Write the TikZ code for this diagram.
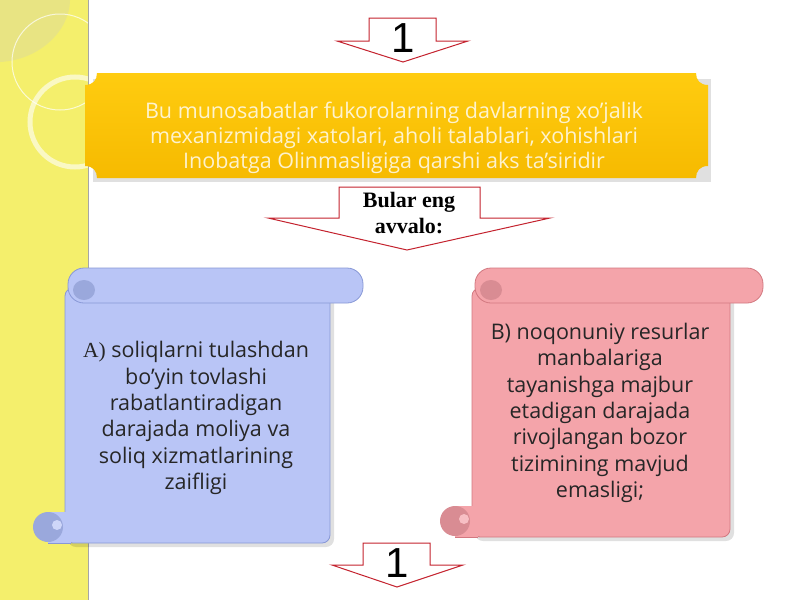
\documentclass[tikz,border=0pt]{standalone}
\usepackage{fontspec}
\setmainfont{Open Sans}
\newfontfamily\serifx{Liberation Serif}
\newfontfamily\arialx{Liberation Sans}
\definecolor{stripyellow}{HTML}{F4EF6C}
\definecolor{bannerA}{HTML}{FFCC10}
\definecolor{bannerB}{HTML}{F6BA00}
\definecolor{arrowred}{HTML}{C4222E}
\definecolor{blueF}{HTML}{B9C5F6}
\definecolor{blueD}{HTML}{8898D6}
\definecolor{redF}{HTML}{F4A4AA}
\definecolor{redD}{HTML}{D27880}
\tikzset{
  arrowbox/.style={draw=arrowred,fill=white,line width=1pt,line join=miter},
  bannertext/.style={align=center,text=white,text opacity=0.8,font=\fontsize{21.5}{25}\selectfont},
  scrolltext/.style={align=center,text=black!85,font=\fontsize{21.5}{26.3}\selectfont},
  numlabel/.style={font=\arialx\fontsize{42}{42}\selectfont}
}
\newcommand\drawscroll[7]{%
  % #1 left, #2 body right, #3 roll right, #4 top, #5 bottom, #6 fill, #7 dark
  \fill[black,opacity=0.12,rounded corners=8] ({#1+3},{#4+24}) rectangle ({#2+4},{#5+4});
  \filldraw[fill=#6,draw=#7,line width=0.8pt,rounded corners=8] ({#1},{#4+20}) rectangle ({#2},{#5});
  \fill[#6] ({#1-17},{#5-31}) rectangle ({#1+6},{#5-0.5});
  \draw[#7,line width=0.8pt] ({#1-17},{#5}) -- ({#1+6},{#5});
  \fill[#7!85] ({#1-17},{#5-16}) circle[radius=15];
  \fill[#6!70!white] ({#1-8},{#5-18}) circle[radius=5];
  \filldraw[fill=#6,draw=#7,line width=0.8pt,rounded corners=16] ({#1+3},{#4}) rectangle ({#3},{#4+35});
  \fill[#7!85] ({#1+19},{#4+22}) ellipse[x radius=11,y radius=10];
}
\begin{document}
\begin{tikzpicture}[x=1pt,y=-1pt]
\useasboundingbox (0,0) rectangle (800,600);
\fill[white] (0,0) rectangle (800,600);
% left strip
\fill[stripyellow] (0,0) rectangle (88,600);
\fill[olive!30,opacity=0.5] (0,0) -- (70,0) .. controls (70,30) and (40,60) .. (0,62) -- cycle;
\draw[white,opacity=0.7,line width=1pt] (60,62) circle[radius=48];
\draw[white,opacity=0.6,line width=5pt] (75,122) circle[radius=45];
\draw[gray!70,line width=0.8pt] (88,0) -- (88,600);
% banner
\fill[black,opacity=0.12] (93,79) -- (711,79) -- (711,182) -- (93,182) -- cycle;
\shade[top color=bannerA,bottom color=bannerB,draw=none]
  (97,73) -- (696,73) .. controls (696,80) and (700,85) .. (708,85)
  -- (708,166) .. controls (700,166) and (696,171) .. (696,178)
  -- (97,178) .. controls (97,171) and (93,166) .. (85,166)
  -- (85,85) .. controls (93,85) and (97,80) .. (97,73) -- cycle;
\node[bannertext] (banner) at (394,138) {Bu munosabatlar fukorolarning davlarning xo'jalik\\mexanizmidagi xatolari, aholi talablari, xohishlari\\Inobatga Olinmasligiga qarshi aks ta'siridir};
% top arrow
\draw[arrowbox] (369,18) -- (436,18) -- (436,41) -- (468,41) -- (403,62) -- (337,41) -- (369,41) -- cycle;
\node[numlabel] (n1) at (403,38) {1};
% Bular arrow
\draw[arrowbox] (339,187) -- (480,187) -- (480,218) -- (550,218) -- (407,250) -- (268,218) -- (339,218) -- cycle;
\node[align=center,font=\serifx\bfseries\fontsize{22}{26}\selectfont] (bular) at (409,213) {Bular eng\\avvalo:};
% scrolls
\drawscroll{65}{330}{363}{268}{543}{blueF}{blueD}
\drawscroll{472}{730}{763}{268}{537}{redF}{redD}
\node[scrolltext] (atext) at (196,418) {{\serifx A)} soliqlarni tulashdan\\bo’yin tovlashi\\rabatlantiradigan\\darajada moliya va\\soliq xizmatlarining\\zaifligi};
\node[scrolltext] (btext) at (600,413) {B) noqonuniy resurlar\\manbalariga\\tayanishga majbur\\etadigan darajada\\rivojlangan bozor\\tizimining mavjud\\emasligi;};
% bottom arrow
\draw[arrowbox] (363,543) -- (430,543) -- (430,565) -- (463,565) -- (397,587) -- (332,565) -- (363,565) -- cycle;
\node[numlabel] (n2) at (397,563) {1};
\end{tikzpicture}
\end{document}
